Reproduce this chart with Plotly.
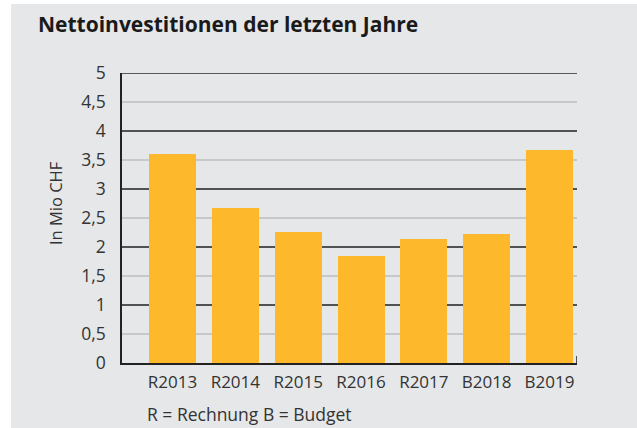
import plotly.graph_objects as go

# ---- data ----
categories = ["R2013", "R2014", "R2015", "R2016", "R2017", "B2018", "B2019"]
values = [3.60, 2.68, 2.26, 1.85, 2.14, 2.22, 3.67]
y_ticks = [0, 0.5, 1, 1.5, 2, 2.5, 3, 3.5, 4, 4.5, 5]
y_tick_labels = [("%g" % v).replace(".", ",") for v in y_ticks]
title_text = "Nettoinvestitionen der letzten Jahre"
y_title = "In Mio CHF"
footnote = "R = Rechnung B = Budget"

# ---- style ----
W, H = 637, 428
L, R, T, B = 122, 60, 73, 65
BG = "#e6e7e9"
BAR = "#fdb92b"
FONT = "Open Sans"
TXT = "#333333"
x_pos = list(range(len(categories)))
x_range = [-0.804, len(categories) - 1 + 0.438]
y_range = [0, 5]

fig = go.Figure()
fig.add_trace(go.Bar(
    x=x_pos, y=values, width=0.748,
    marker=dict(color=BAR, line=dict(width=0)),
    hoverinfo="skip",
))

shapes = []
pw, ph = W - L - R, H - T - B
# gray background panel (white strips at left and top)
shapes.append(dict(type="rect", xref="paper", yref="paper",
                   x0=(11 - L) / pw, x1=(W + 5 - L) / pw,
                   y0=-(B + 5) / ph, y1=1 + (T - 4) / ph,
                   fillcolor=BG, line=dict(width=0), layer="below"))
# dark integer gridlines
for v in y_ticks:
    if v > 0 and float(v).is_integer():
        shapes.append(dict(type="line", xref="x", yref="y",
                           x0=x_range[0], x1=x_range[1], y0=v, y1=v,
                           line=dict(color="#2b2b2b", width=1.6), layer="between"))
# small end tick at right of x axis
shapes.append(dict(type="line", xref="x", yref="y",
                   x0=x_range[1], x1=x_range[1], y0=0, y1=0.12,
                   line=dict(color="#2b2b2b", width=1.6), layer="above"))

fig.update_layout(
    width=W, height=H,
    margin=dict(l=L, r=R, t=T, b=B, pad=0),
    paper_bgcolor="white",
    plot_bgcolor="rgba(0,0,0,0)",
    showlegend=False,
    bargap=0,
    font=dict(family=FONT, size=16, color="#222222"),
    title=dict(text=title_text, xref="container", yref="container",
               x=38 / W, xanchor="left", y=1 - 25 / H, yanchor="middle",
               font=dict(family=FONT, size=21, color="#1a1a1a", weight="bold")),
    shapes=shapes,
    xaxis=dict(range=x_range, tickmode="array", tickvals=x_pos, ticktext=categories,
               showgrid=False, zeroline=False, showline=True, linecolor="#222222",
               linewidth=1.6, ticks="outside", ticklen=3, tickcolor="rgba(0,0,0,0)",
               tickfont=dict(family=FONT, size=17, color=TXT), fixedrange=True),
    yaxis=dict(range=y_range, tickmode="array", tickvals=y_ticks, ticktext=y_tick_labels,
               showgrid=True, gridcolor="#c7c8ca", gridwidth=1.6, zeroline=False,
               showline=True, linecolor="#222222", linewidth=1.6,
               ticks="outside", ticklen=11, tickcolor="rgba(0,0,0,0)",
               tickfont=dict(family=FONT, size=17.5, color=TXT), fixedrange=True),
    annotations=[
        dict(text=y_title, xref="paper", yref="paper", x=(55 - L) / pw,
             y=(H - B - 203) / ph, xanchor="center", yanchor="middle",
             textangle=-90, showarrow=False,
             font=dict(family=FONT, size=16.5, color=TXT)),
        dict(text=footnote, xref="paper", yref="paper", x=(145 - L) / pw,
             y=(H - B - 414) / ph, xanchor="left", yanchor="middle",
             showarrow=False, font=dict(family=FONT, size=17.5, color=TXT)),
    ],
)

fig.write_html(
    "out.html",
    config={"displayModeBar": False},
    post_script="document.body.style.margin='0';document.body.style.overflow='hidden';",
)
